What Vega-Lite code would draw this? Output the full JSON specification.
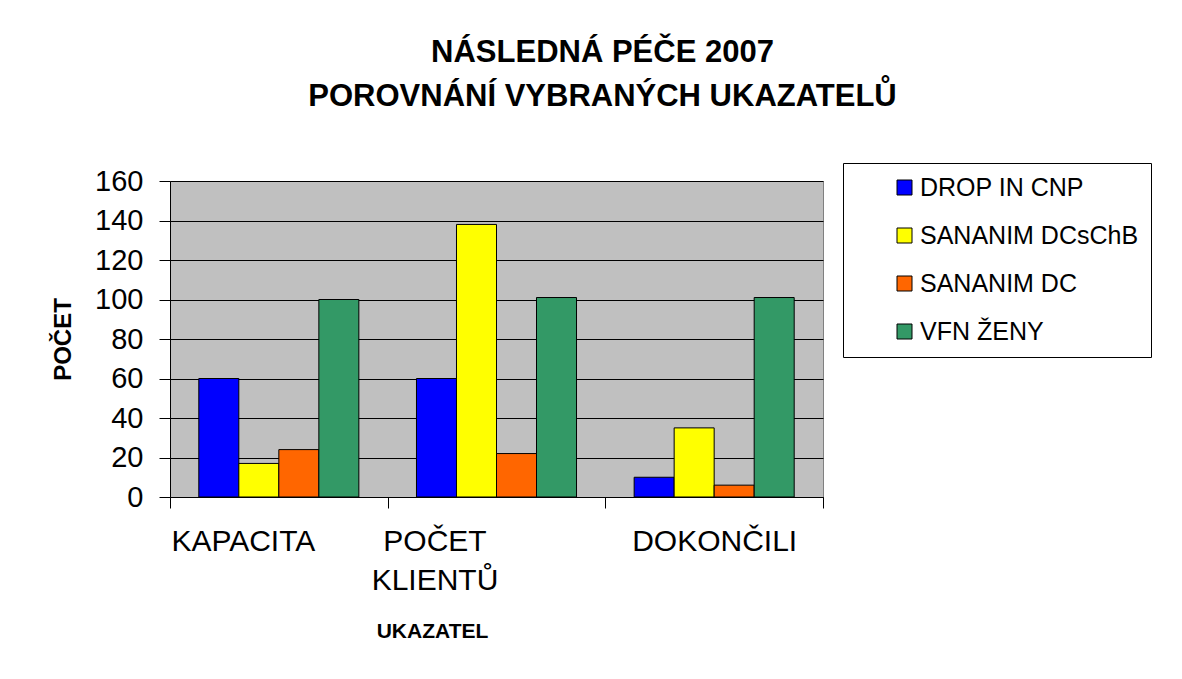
{
  "$schema": "https://vega.github.io/schema/vega-lite/v6.json",
  "autosize": {"type": "none"},
  "padding": {"left": 170, "top": 181, "right": 359, "bottom": 182},
  "width": 653,
  "height": 316,
  "background": "white",
  "config": {
    "font": "Liberation Sans",
    "view": {"fill": "#C0C0C0", "stroke": "#808080", "strokeWidth": 1}
  },
  "title": {
    "text": ["NÁSLEDNÁ PÉČE 2007", "POROVNÁNÍ VYBRANÝCH UKAZATELŮ"],
    "font": "Liberation Sans",
    "fontSize": 31,
    "fontWeight": "bold",
    "color": "black",
    "anchor": "middle",
    "frame": "group",
    "dx": 106,
    "lineHeight": 43.5,
    "baseline": "alphabetic",
    "offset": 26
  },
  "data": {
    "values": [
      {"ukazatel": "KAPACITA", "serie": "DROP IN CNP", "pocet": 60},
      {"ukazatel": "KAPACITA", "serie": "SANANIM DCsChB", "pocet": 17},
      {"ukazatel": "KAPACITA", "serie": "SANANIM DC", "pocet": 24},
      {"ukazatel": "KAPACITA", "serie": "VFN ŽENY", "pocet": 100},
      {"ukazatel": "POČET KLIENTŮ", "serie": "DROP IN CNP", "pocet": 60},
      {"ukazatel": "POČET KLIENTŮ", "serie": "SANANIM DCsChB", "pocet": 138},
      {"ukazatel": "POČET KLIENTŮ", "serie": "SANANIM DC", "pocet": 22},
      {"ukazatel": "POČET KLIENTŮ", "serie": "VFN ŽENY", "pocet": 101},
      {"ukazatel": "DOKONČILI", "serie": "DROP IN CNP", "pocet": 10},
      {"ukazatel": "DOKONČILI", "serie": "SANANIM DCsChB", "pocet": 35},
      {"ukazatel": "DOKONČILI", "serie": "SANANIM DC", "pocet": 6},
      {"ukazatel": "DOKONČILI", "serie": "VFN ŽENY", "pocet": 101}
    ]
  },
  "mark": {"type": "bar", "stroke": "black", "strokeWidth": 1},
  "encoding": {
    "x": {
      "field": "ukazatel",
      "type": "nominal",
      "sort": ["KAPACITA", "POČET KLIENTŮ", "DOKONČILI"],
      "scale": {"paddingInner": 0, "paddingOuter": 0},
      "axis": {
        "title": "UKAZATEL",
        "titleFont": "Liberation Sans",
        "titleFontSize": 21,
        "titleFontWeight": "bold",
        "titleColor": "black",
        "titleX": 262,
        "titleY": 140,
        "titleAlign": "center",
        "titleBaseline": "alphabetic",
        "labelAngle": 0,
        "labelFont": "Liberation Sans",
        "labelFontSize": 30,
        "labelColor": "black",
        "labelPadding": 18,
        "labelLineHeight": 39,
        "labelBaseline": "top",
        "labelExpr": "datum.value === 'POČET KLIENTŮ' ? ['POČET', 'KLIENTŮ'] : datum.label",
        "labelOffset": {
          "condition": [
            {"test": "datum.value === 'KAPACITA'", "value": -36},
            {"test": "datum.value === 'POČET KLIENTŮ'", "value": -62}
          ],
          "value": 0
        },
        "tickBand": "extent",
        "tickSize": 11,
        "tickColor": "black",
        "domainColor": "black",
        "grid": false
      }
    },
    "xOffset": {
      "field": "serie",
      "type": "nominal",
      "sort": ["DROP IN CNP", "SANANIM DCsChB", "SANANIM DC", "VFN ŽENY"],
      "scale": {"paddingInner": 0, "paddingOuter": 0.72}
    },
    "y": {
      "field": "pocet",
      "type": "quantitative",
      "scale": {"domain": [0, 160], "nice": false},
      "axis": {
        "title": "POČET",
        "titleFont": "Liberation Sans",
        "titleFontSize": 24,
        "titleFontWeight": "bold",
        "titleColor": "black",
        "titleAngle": -90,
        "titleX": -100,
        "titleY": 158,
        "titleAlign": "center",
        "titleBaseline": "alphabetic",
        "values": [0, 20, 40, 60, 80, 100, 120, 140, 160],
        "labelFont": "Liberation Sans",
        "labelFontSize": 29,
        "labelColor": "black",
        "labelPadding": 16,
        "tickSize": 11,
        "tickColor": "black",
        "domainColor": "black",
        "grid": true,
        "gridColor": "black",
        "gridOpacity": 1,
        "gridWidth": 1
      }
    },
    "color": {
      "field": "serie",
      "type": "nominal",
      "sort": ["DROP IN CNP", "SANANIM DCsChB", "SANANIM DC", "VFN ŽENY"],
      "scale": {
        "domain": ["DROP IN CNP", "SANANIM DCsChB", "SANANIM DC", "VFN ŽENY"],
        "range": ["#0000FF", "#FFFF00", "#FF6600", "#339966"]
      },
      "legend": {
        "title": null,
        "orient": "none",
        "legendX": 673,
        "legendY": -18,
        "direction": "vertical",
        "fillColor": "white",
        "strokeColor": "black",
        "padding": 12,
        "symbolType": "square",
        "symbolSize": 225,
        "symbolStrokeColor": "black",
        "symbolStrokeWidth": 1,
        "symbolOpacity": 1,
        "symbolOffset": 37,
        "labelOffset": 3,
        "labelFont": "Liberation Sans",
        "labelFontSize": 25,
        "labelColor": "black",
        "labelLimit": 400,
        "rowPadding": 22
      }
    }
  }
}
